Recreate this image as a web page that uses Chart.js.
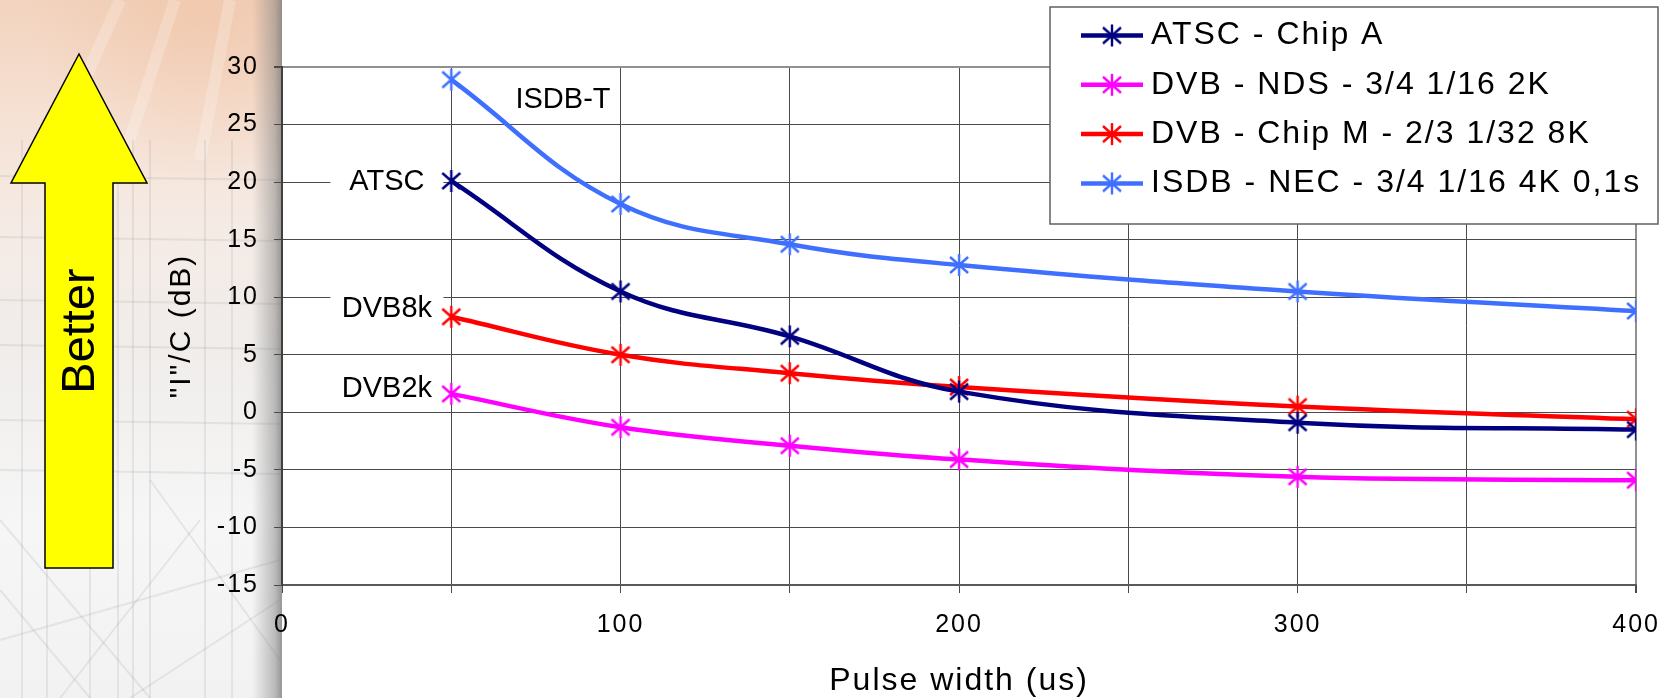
<!DOCTYPE html>
<html>
<head>
<meta charset="utf-8">
<script src="https://cdn.jsdelivr.net/npm/chart.js@4.4.1/dist/chart.umd.min.js"></script>
<style>
  html, body { margin: 0; padding: 0; background: #fff; }
  #wrap { width: 1674px; height: 698px; }
</style>
</head>
<body>
<div id="wrap"><canvas id="pulseChart"></canvas></div>
<script>
// values
const pulseWidth = [50, 100, 150, 200, 300, 400];
const atscChipA = [20.1, 10.5, 6.6, 1.8, -0.9, -1.5];
const dvbNds = [1.6, -1.3, -2.9, -4.1, -5.6, -5.9];
const dvbChipM = [8.3, 5.0, 3.4, 2.2, 0.5, -0.6];
const isdbNec = [28.9, 18.1, 14.6, 12.8, 10.5, 8.8];
const seriesLabels = ['ATSC - Chip A', 'DVB - NDS - 3/4 1/16 2K', 'DVB - Chip M - 2/3 1/32 8K', 'ISDB - NEC - 3/4 1/16 4K 0,1s'];
const xLabelStep = 100;

// text notes placed in value space
const notes = [
  { text: 'ISDB-T', x: 83, y: 27.1 },
  { text: 'ATSC', x: 31, y: 20 },
  { text: 'DVB8k', x: 31, y: 9 },
  { text: 'DVB2k', x: 31, y: 2 }
];

const FONT = '"Liberation Sans", Arial, sans-serif';
Chart.defaults.font.family = FONT;
Chart.defaults.color = '#000';

function starMarker(color) {
  const c = document.createElement('canvas');
  c.width = 24; c.height = 24;
  const g = c.getContext('2d');
  g.strokeStyle = color;
  g.lineWidth = 2.4;
  g.beginPath();
  g.moveTo(12, 1); g.lineTo(12, 23);
  g.moveTo(3, 4); g.lineTo(21, 20);
  g.moveTo(21, 4); g.lineTo(3, 20);
  g.stroke();
  return c;
}

function series(label, values, color) {
  return {
    label: label,
    data: pulseWidth.map((x, i) => ({ x: x, y: values[i] })),
    borderColor: color,
    backgroundColor: color,
    borderWidth: 4.5,
    tension: 0.4,
    fill: false,
    pointStyle: starMarker(color),
    pointRadius: 11
  };
}

const sidePanel = {
  id: 'sidePanel',
  beforeDraw(chart) {
    const ctx = chart.ctx;
    const edge = chart.chartArea.left;
    const h = chart.height;
    ctx.save();
    ctx.fillStyle = '#fff';
    ctx.fillRect(0, 0, chart.width, h);

    let g = ctx.createLinearGradient(0, 0, 0, h);
    g.addColorStop(0, '#f2d3be');
    g.addColorStop(0.15, '#f6e0d2');
    g.addColorStop(0.32, '#f5ebe5');
    g.addColorStop(0.5, '#f0edeb');
    g.addColorStop(0.75, '#f6f6f6');
    g.addColorStop(1, '#f2f2f2');
    ctx.fillStyle = g;
    ctx.fillRect(0, 0, edge, h);

    g = ctx.createRadialGradient(200, 20, 5, 200, 20, 170);
    g.addColorStop(0, 'rgba(238,185,150,0.4)');
    g.addColorStop(1, 'rgba(238,185,150,0)');
    ctx.fillStyle = g;
    ctx.fillRect(0, 0, edge, 200);

    // light rays
    ctx.strokeStyle = 'rgba(255,255,255,0.22)';
    ctx.lineWidth = 12;
    [[120, 0, 40, 180], [175, 0, 110, 200], [230, 0, 200, 160]].forEach(s => {
      ctx.beginPath(); ctx.moveTo(s[0], s[1]); ctx.lineTo(s[2], s[3]); ctx.stroke();
    });

    // faint sketch lines
    ctx.strokeStyle = 'rgba(140,140,140,0.16)';
    ctx.lineWidth = 2;
    [22, 47, 90, 118, 133, 150, 205, 232].forEach(x => {
      ctx.beginPath(); ctx.moveTo(x, 140); ctx.lineTo(x, h); ctx.stroke();
    });
    [176, 237, 300, 345, 420, 470].forEach(y => {
      ctx.beginPath(); ctx.moveTo(0, y); ctx.lineTo(edge, y + 4); ctx.stroke();
    });
    [[0, 640, 280, 560], [60, 698, 200, 520], [0, 520, 150, 698], [130, 698, 280, 600], [0, 590, 90, 698], [150, 480, 280, 660]].forEach(s => {
      ctx.beginPath(); ctx.moveTo(s[0], s[1]); ctx.lineTo(s[2], s[3]); ctx.stroke();
    });

    // shadow strip along the axis
    g = ctx.createLinearGradient(edge - 30, 0, edge, 0);
    g.addColorStop(0, 'rgba(120,120,120,0)');
    g.addColorStop(0.75, 'rgba(120,120,120,0.45)');
    g.addColorStop(1, 'rgba(110,110,110,0.7)');
    ctx.fillStyle = g;
    ctx.fillRect(edge - 30, 0, 30, h);

    // "Better" arrow
    ctx.beginPath();
    ctx.moveTo(79, 54);
    ctx.lineTo(147, 183);
    ctx.lineTo(113, 183);
    ctx.lineTo(113, 568);
    ctx.lineTo(45, 568);
    ctx.lineTo(45, 183);
    ctx.lineTo(11, 183);
    ctx.closePath();
    ctx.fillStyle = '#ffff00';
    ctx.fill();
    ctx.strokeStyle = '#000';
    ctx.lineWidth = 1.5;
    ctx.stroke();

    ctx.translate(81, 331);
    ctx.rotate(-Math.PI / 2);
    ctx.font = '47px ' + FONT;
    ctx.fillStyle = '#000';
    ctx.textAlign = 'center';
    ctx.textBaseline = 'middle';
    ctx.fillText('Better', 0, 0);
    ctx.restore();
    ctx.letterSpacing = '2px';
  }
};

const noteBoxes = {
  id: 'noteBoxes',
  beforeDatasetsDraw(chart) {
    const { ctx, scales: { x, y } } = chart;
    ctx.save();
    ctx.letterSpacing = '0px';
    ctx.font = '29px ' + FONT;
    ctx.textAlign = 'center';
    ctx.textBaseline = 'middle';
    notes.forEach(n => {
      const px = x.getPixelForValue(n.x);
      const py = y.getPixelForValue(n.y);
      const w = Math.max(ctx.measureText(n.text).width + 16, 113);
      ctx.fillStyle = '#fff';
      ctx.fillRect(px - w / 2, py - 19, w, 38);
      ctx.fillStyle = '#000';
      ctx.fillText(n.text, px, py);
    });
    ctx.restore();
  }
};

const legendBox = {
  id: 'legendBox',
  afterDraw(chart) {
    const ctx = chart.ctx;
    ctx.save();
    ctx.fillStyle = '#fff';
    ctx.fillRect(1050, 7, 608, 217);
    ctx.strokeStyle = '#606060';
    ctx.lineWidth = 1.5;
    ctx.strokeRect(1050, 7, 608, 217);
    ctx.font = '32px ' + FONT;
    ctx.letterSpacing = '2px';
    ctx.textBaseline = 'middle';
    chart.data.datasets.forEach((ds, i) => {
      const y = 35.5 + i * 49.3;
      ctx.strokeStyle = ds.borderColor;
      ctx.lineWidth = 4.5;
      ctx.beginPath();
      ctx.moveTo(1081, y);
      ctx.lineTo(1143, y);
      ctx.stroke();
      ctx.drawImage(ds.pointStyle, 1112 - 12, y - 12);
      ctx.fillStyle = '#000';
      ctx.fillText(ds.label, 1151, y);
    });
    ctx.restore();
  }
};

const pulseChart = document.getElementById('pulseChart');
new Chart(pulseChart, {
  type: 'line',
  data: {
    datasets: [
      series(seriesLabels[0], atscChipA, '#000080'),
      series(seriesLabels[1], dvbNds, '#ff00ff'),
      series(seriesLabels[2], dvbChipM, '#ff0000'),
      series(seriesLabels[3], isdbNec, '#3f6fff')
    ]
  },
  options: {
    responsive: true,
    maintainAspectRatio: false,
    animation: false,
    layout: { padding: { left: 0, right: 35, top: 67, bottom: 0 } },
    plugins: {
      legend: { display: false },
      tooltip: { enabled: false }
    },
    scales: {
      x: {
        type: 'linear',
        min: 0,
        max: 400,
        afterFit: s => { s.height = 113; },
        ticks: {
          stepSize: 50,
          autoSkip: false,
          maxRotation: 0,
          padding: 17,
          font: { size: 25 },
          callback: v => (v % xLabelStep === 0 ? v : '')
        },
        grid: {
          color: c => (c.tick && c.tick.value === 400 ? '#909090' : '#4a4a4a'),
          lineWidth: c => (c.tick && c.tick.value === 400 ? 2 : 1),
          tickColor: '#4a4a4a',
          tickLength: 8
        },
        border: { color: '#5a5a5a', width: 2 },
        title: {
          display: true,
          text: 'Pulse width (us)',
          font: { size: 32, lineHeight: 1 },
          padding: { top: 0, bottom: 1 }
        }
      },
      y: {
        min: -15,
        max: 30,
        afterFit: s => { s.width = 282; },
        ticks: {
          stepSize: 5,
          padding: 15,
          font: { size: 25 }
        },
        grid: {
          color: c => (c.tick && c.tick.value === 30 ? '#909090' : '#4a4a4a'),
          lineWidth: c => (c.tick && c.tick.value === 30 ? 2 : 1),
          tickColor: '#4a4a4a',
          tickLength: 8
        },
        border: { color: '#404040', width: 2 },
        title: {
          display: true,
          text: '"I"/C (dB)',
          font: { size: 30 },
          padding: { top: 164, bottom: 0 }
        }
      }
    }
  },
  plugins: [sidePanel, noteBoxes, legendBox]
});
</script>
</body>
</html>
